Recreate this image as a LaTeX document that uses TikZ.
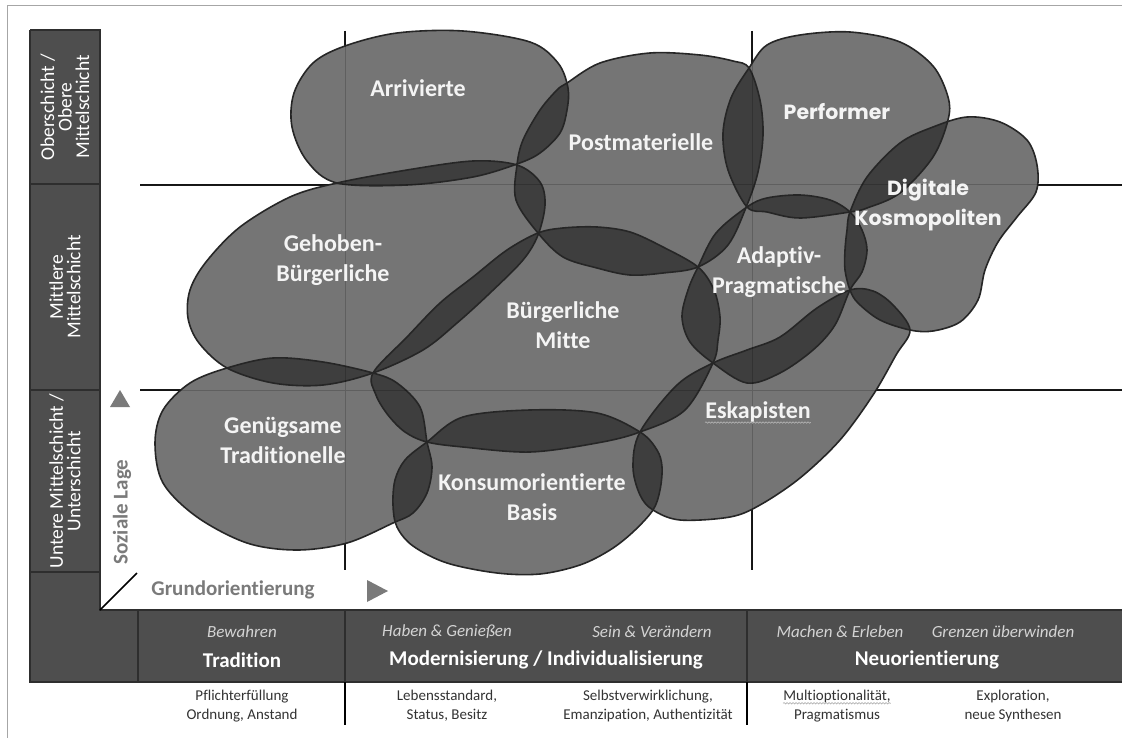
\documentclass[tikz,border=0pt]{standalone}
\usepackage{fontspec}
\setmainfont{Carlito}[Ligatures=NoCommon]
\newfontfamily\pop{Poppins}
\usetikzlibrary{decorations.pathmorphing}
\definecolor{blobc}{HTML}{757575}
\definecolor{lensc}{HTML}{3E3E3E}
\definecolor{edgec}{HTML}{262626}
\definecolor{barc}{HTML}{4E4E4E}
\definecolor{barline}{HTML}{2E2E2E}
\definecolor{axisgray}{HTML}{7A7A7A}
\definecolor{itc}{HTML}{D4D4D4}
\definecolor{txt}{HTML}{333333}
\definecolor{lbl}{HTML}{F4F4F4}

\def\blobA{plot[smooth cycle,tension=0.55] coordinates {(337,183) (307,161) (292,127) (294,93) (313,63) (345,46) (397,33) (463,31) (530,42) (558,63) (568,88) (567,110) (560,133) (540,153) (517,164) (473,177) (407,185)}}
\def\blobG{plot[smooth cycle,tension=0.55] coordinates {(337,183) (407,170) (473,161) (517,165) (540,182) (545,205) (538,235) (523,260) (490,293) (457,323) (423,350) (373,373) (323,385) (273,383) (227,368) (199,343) (188,318) (190,290) (206,262) (240,227) (290,197)}}
\def\blobP{plot[smooth cycle,tension=0.55] coordinates {(567,83) (600,63) (650,53) (700,55) (733,61) (749,68) (760,100) (763,135) (758,172) (747,205) (728,245) (698,267) (663,273) (630,275) (597,268) (563,257) (538,233) (516,200) (517,165) (523,140) (540,110) (557,90)}}
\def\blobF{plot[smooth cycle,tension=0.55] coordinates {(749,68) (767,45) (800,35) (850,32) (900,42) (933,66) (948,97) (948,120) (933,157) (900,193) (867,208) (850,212) (800,218) (767,212) (747,207) (728,170) (723,133) (731,98)}}
\def\blobD{plot[smooth cycle,tension=0.55] coordinates {(850,212) (867,177) (900,143) (933,127) (967,117) (1000,122) (1027,140) (1037,165) (1036,192) (1017,217) (998,242) (985,270) (978,300) (960,322) (933,331) (910,330) (880,320) (858,303) (850,290) (845,270) (845,250) (847,230)}}
\def\blobQ{plot[smooth cycle,tension=0.55] coordinates {(698,267) (716,233) (747,207) (767,198) (800,195) (830,200) (850,212) (862,230) (867,250) (862,272) (850,290) (835,325) (813,350) (780,373) (747,383) (713,363) (690,342) (682,317) (688,290)}}
\def\blobM{plot[smooth cycle,tension=0.55] coordinates {(538,233) (563,228) (597,227) (630,232) (663,247) (698,267) (714,290) (720,317) (718,340) (713,363) (685,410) (640,432) (597,443) (530,452) (463,447) (427,442) (405,432) (388,415) (376,395) (373,373) (407,337) (440,303) (473,277) (507,250)}}
\def\blobE{plot[smooth cycle,tension=0.55] coordinates {(640,432) (633,467) (640,495) (653,510) (680,520) (730,517) (760,505) (800,478) (840,440) (873,395) (896,355) (910,330) (893,305) (873,291) (850,290) (817,308) (780,337) (747,350) (713,363) (677,385)}}
\def\blobT{plot[smooth cycle,tension=0.55] coordinates {(227,368) (190,383) (163,410) (155,443) (163,483) (197,517) (247,543) (297,550) (347,543) (393,523) (413,513) (427,493) (432,467) (427,442) (420,407) (397,383) (373,373) (323,362) (273,358)}}
\def\blobK{plot[smooth cycle,tension=0.55] coordinates {(427,442) (463,417) (530,410) (597,413) (640,432) (657,450) (662,467) (660,490) (653,510) (633,532) (610,550) (580,565) (540,574) (497,573) (447,563) (413,546) (397,527) (393,505) (395,480) (405,460)}}

\newcommand\lensof[2]{\begin{scope}\clip #1;\fill[lensc] #2;\end{scope}}

\begin{document}
\begin{tikzpicture}[x=1pt,y=-1pt,
  lab/.style={text=lbl,font=\fontsize{24}{30}\selectfont\bfseries,align=center,inner sep=0pt},
  plab/.style={text=lbl,font=\pop\fontsize{20.5}{30}\selectfont\bfseries,align=center,inner sep=0pt},
  collab/.style={text=white,rotate=90,align=center,font=\fontsize{19.5}{17.5}\selectfont,inner sep=0pt},
  baritalic/.style={text=itc,font=\fontsize{17}{20}\selectfont\itshape,inner sep=0pt},
  barbold/.style={text=white,font=\fontsize{21}{24}\selectfont\bfseries,inner sep=0pt},
  subtext/.style={text=txt,align=center,font=\fontsize{15}{19}\selectfont,inner sep=0pt},
  axislab/.style={text=axisgray,font=\fontsize{21}{24}\selectfont\bfseries,inner sep=0pt},
  gridline/.style={draw=black!90,line width=2.2pt},
  faintgrid/.style={draw=black,opacity=0.18,line width=1pt},
  blobedge/.style={draw=edgec,line width=1.6pt},
  squiggle/.style={draw=gray!60,line width=0.7pt,decorate,decoration={snake,amplitude=0.7pt,segment length=3pt}}]
\useasboundingbox (0,0) rectangle (1122,738);
\fill[white] (0,0) rectangle (1122,738);
% outer frame
\draw[gray!70,line width=1pt] (7,738) -- (7,6) -- (1122,6);
% left column and bottom bar
\fill[barc] (30,30) -- (100,30) -- (100,610) -- (1122,610) -- (1122,682) -- (30,682) -- cycle;
\draw[barline,line width=2pt] (30,30) -- (100,30) -- (100,610) -- (1122,610) (1122,682) -- (30,682) -- (30,30);
\draw[barline,line width=2pt] (30,184) -- (100,184) (30,390) -- (100,390) (30,572) -- (100,572)
  (138,610) -- (138,682) (345,610) -- (345,682) (747,610) -- (747,682);
\draw[black,line width=2pt] (345,682) -- (345,725) (747,682) -- (747,725);
% axes
\draw[black,line width=1.5pt] (100,610) -- (137,573);
\fill[axisgray] (110,407) -- (130,407) -- (120,390) -- cycle;
\fill[axisgray] (367,580) -- (367,602) -- (388,591) -- cycle;
% grid
\draw[gridline] (345,31) -- (345,570) (752,31) -- (752,570) (140,185) -- (1122,185) (140,390) -- (1122,390);
% blobs
\fill[blobc] \blobA; \fill[blobc] \blobG; \fill[blobc] \blobP; \fill[blobc] \blobF; \fill[blobc] \blobD;
\fill[blobc] \blobQ; \fill[blobc] \blobM; \fill[blobc] \blobE; \fill[blobc] \blobT; \fill[blobc] \blobK;
% overlaps
\lensof{\blobA}{\blobG} \lensof{\blobA}{\blobP} \lensof{\blobP}{\blobG} \lensof{\blobP}{\blobM}
\lensof{\blobG}{\blobM} \lensof{\blobP}{\blobF} \lensof{\blobP}{\blobQ} \lensof{\blobF}{\blobQ}
\lensof{\blobF}{\blobD} \lensof{\blobQ}{\blobD} \lensof{\blobD}{\blobE} \lensof{\blobQ}{\blobE}
\lensof{\blobM}{\blobQ} \lensof{\blobM}{\blobE} \lensof{\blobM}{\blobK} \lensof{\blobK}{\blobE}
\lensof{\blobT}{\blobM} \lensof{\blobG}{\blobT} \lensof{\blobT}{\blobK}
% outlines
\draw[blobedge] \blobA; \draw[blobedge] \blobG; \draw[blobedge] \blobP; \draw[blobedge] \blobF; \draw[blobedge] \blobD;
\draw[blobedge] \blobQ; \draw[blobedge] \blobM; \draw[blobedge] \blobE; \draw[blobedge] \blobT; \draw[blobedge] \blobK;
\draw[faintgrid] (345,31) -- (345,570) (752,31) -- (752,570) (140,185) -- (1122,185) (140,390) -- (1122,390);
% blob labels
\node[lab] (arr) at (418,88) {Arrivierte};
\node[lab] (post) at (641,142) {Postmaterielle};
\node[plab] (perf) at (837,112) {Performer};
\node[plab] (digi) at (928,205) {Digitale\\Kosmopoliten};
\node[lab] (geh) at (333,260) {Gehoben-\\Bürgerliche};
\node[lab] (bm) at (563,325) {Bürgerliche\\Mitte};
\node[lab] (ap) at (779,272) {Adaptiv-\\Pragmatische};
\node[lab] (gt) at (283,440) {Genügsame\\Traditionelle};
\node[lab] (kb) at (532,497) {Konsumorientierte\\Basis};
\node[lab] (esk) at (758,412) {Eskapisten};
\draw[squiggle] ([yshift=-4pt]esk.base west) -- ([yshift=-4pt]esk.base east);
% left column labels
\node[collab] (c1) at (65,107) {Oberschicht /\\Obere\\Mittelschicht};
\node[collab] (c2) at (65,287) {Mittlere\\Mittelschicht};
\node[collab] (c3) at (65,481) {Untere Mittelschicht /\\Unterschicht};
% axis labels
\node[axislab,rotate=90] (soz) at (122,512) {Soziale Lage};
\node[axislab] (grund) at (233,590) {Grundorientierung};
% bottom bar
\node[baritalic] (i1) at (242,632) {Bewahren};
\node[baritalic] (i2) at (447,632) {Haben \& Genießen};
\node[baritalic] (i3) at (652,632) {Sein \& Verändern};
\node[baritalic] (i4) at (840,632) {Machen \& Erleben};
\node[baritalic] (i5) at (1003,632) {Grenzen überwinden};
\node[barbold] (b1) at (242,660) {Tradition};
\node[barbold] (b2) at (546,660) {Modernisierung / Individualisierung};
\node[barbold] (b3) at (927,660) {Neuorientierung};
% below bar
\node[subtext] (s1) at (242,706) {Pflichterfüllung\\Ordnung, Anstand};
\node[subtext] (s2) at (447,706) {Lebensstandard,\\Status, Besitz};
\node[subtext] (s3) at (648,706) {Selbstverwirklichung,\\Emanzipation, Authentizität};
\node[subtext] (s4) at (837,706) {Multioptionalität,\\Pragmatismus};
\node[subtext] (s5) at (1013,706) {Exploration,\\neue Synthesen};
\draw[squiggle] ([yshift=-13.5pt]s4.north west) -- ([yshift=-13.5pt]s4.north east);
\end{tikzpicture}
\end{document}
